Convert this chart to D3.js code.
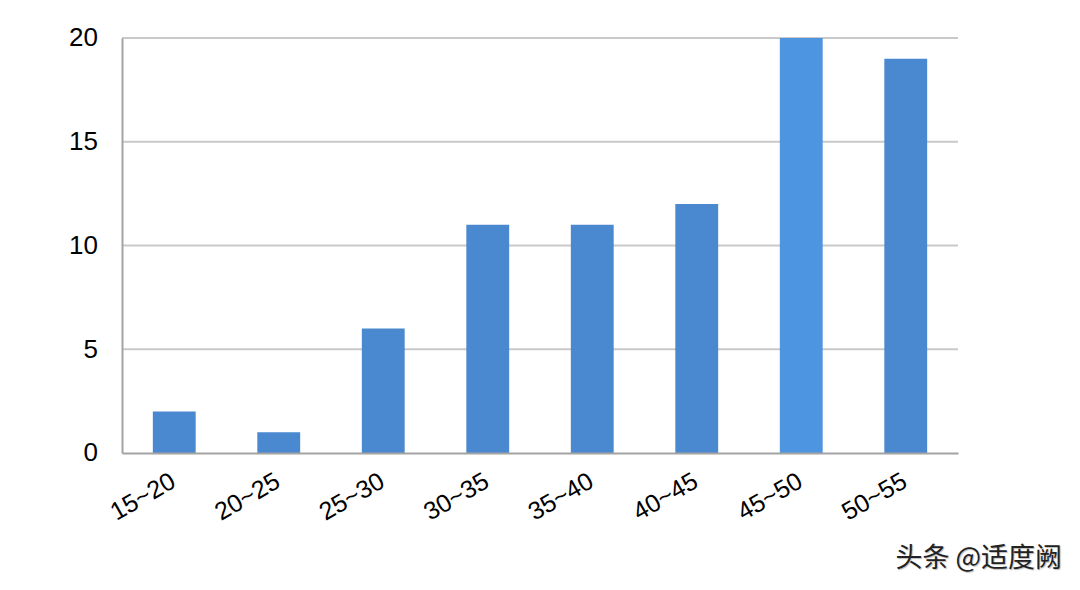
<!DOCTYPE html>
<html>
<head>
<meta charset="utf-8">
<script src="https://cdn.jsdelivr.net/npm/d3@7"></script>
<style>
  body { margin: 0; background: #fff; }
  svg { display: block; font-family: "Liberation Sans", Arial, sans-serif; }
</style>
</head>
<body>
<svg id="chart"></svg>
<script>
const width = 1080;
const height = 590;

// age groups and counts
const categories = ['15~20', '20~25', '25~30', '30~35', '35~40', '40~45', '45~50', '50~55'];
const counts = [2, 1, 6, 11, 11, 12, 20, 19];
const yTicks = [0, 5, 10, 15, 20];

const margin = {top: 38, right: 122, bottom: 137, left: 122};

const svg = d3.select('#chart')
    .attr('width', width)
    .attr('height', height);

const x = d3.scaleBand()
    .domain(categories)
    .range([margin.left, width - margin.right])
    .paddingInner(0.59)
    .paddingOuter(0.295);

const y = d3.scaleLinear()
    .domain([0, 20])
    .range([height - margin.bottom, margin.top]);

// gridlines
svg.append('g')
    .selectAll('line')
    .data(yTicks.filter(d => d > 0))
    .join('line')
    .attr('x1', margin.left)
    .attr('x2', width - margin.right)
    .attr('y1', d => y(d))
    .attr('y2', d => y(d))
    .attr('stroke', '#c9c9c9')
    .attr('stroke-width', 2);

// bars
svg.append('g')
    .selectAll('rect')
    .data(categories)
    .join('rect')
    .attr('x', d => x(d))
    .attr('width', x.bandwidth())
    .attr('y', (d, i) => y(counts[i]))
    .attr('height', (d, i) => y(0) - y(counts[i]))
    .attr('fill', d => d === '45~50' ? '#4d95e0' : '#4a88cf');

// y axis
const yAxis = svg.append('g')
    .attr('transform', `translate(${margin.left},0)`)
    .call(d3.axisLeft(y).tickValues(yTicks).tickSize(0).tickPadding(24));
yAxis.select('.domain').attr('stroke', '#a3a3a3').attr('stroke-width', 2);
yAxis.selectAll('text')
    .attr('font-size', 26)
    .attr('fill', '#000')
    .attr('dy', '0.3em')
    .attr('font-family', '"Liberation Sans", Arial, sans-serif');

// x axis
const xAxis = svg.append('g')
    .attr('transform', `translate(0,${y(0)})`)
    .call(d3.axisBottom(x).tickSize(0).tickPadding(0));
xAxis.select('.domain').attr('stroke', '#a3a3a3').attr('stroke-width', 2);
xAxis.selectAll('text')
    .attr('font-size', 25)
    .attr('fill', '#000')
    .attr('font-family', '"Liberation Sans", Arial, sans-serif')
    .attr('text-anchor', 'end')
    .attr('y', 0)
    .attr('dy', 0)
    .attr('transform', 'translate(3,33) rotate(-30)');

// watermark
svg.append('text')
    .attr('x', 1062)
    .attr('y', 567)
    .attr('text-anchor', 'end')
    .attr('font-family', '"Noto Sans CJK SC", sans-serif')
    .attr('font-size', 27)
    .attr('fill', '#222')
    .attr('style', 'text-shadow: 1px 1px 1px #bbb')
    .text('头条 @适度阙');
</script>
</body>
</html>
